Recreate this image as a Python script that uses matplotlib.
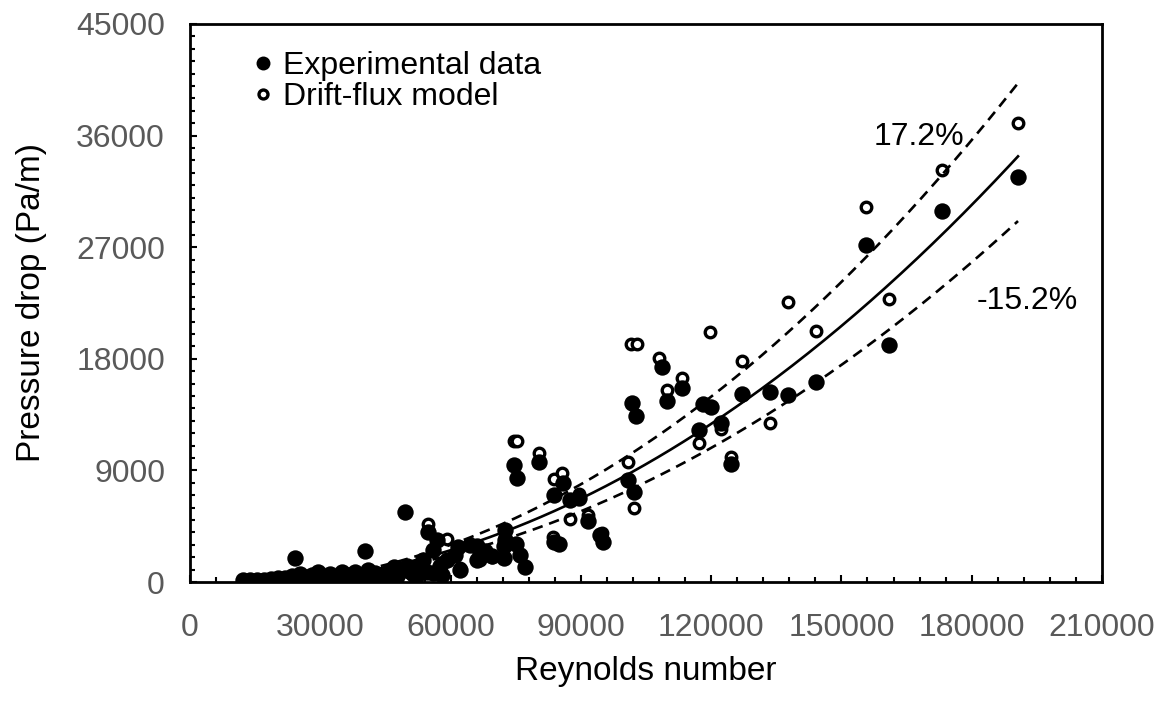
import numpy as np
import matplotlib.pyplot as plt
from matplotlib.ticker import MultipleLocator

# Experimental pressure drop vs Reynolds number
exp_re = [12200, 13800, 15430, 17040, 18650, 20260, 21870, 23490, 24180, 25330,
          26710, 28090, 29470, 30850, 32240, 33620, 35000, 36380, 37990, 39600,
          40300, 40990, 42600, 44210, 45590, 46970, 47660, 48350, 49510, 49970,
          51350, 52500, 53650, 54570, 54800, 55950, 56870, 57570, 59180, 61020,
          61710, 62170, 64470, 66090, 66780, 69540, 72300, 72300, 72530, 72530,
          75070, 75300, 74600, 75990, 77140, 80360, 83810, 83810, 84970, 85890,
          87500, 89570, 91640, 94410, 95100, 100850, 101780, 102240, 102700, 108680,
          109840, 113290, 117200, 118120, 119970, 122270, 124570, 127100, 133550, 137700,
          144140, 155660, 160960, 173160, 190660,
          38000, 41500, 43000, 45000, 47000, 50500, 52000, 56000, 58000, 66000,
          68000]
exp_dp = [160, 160, 160, 160, 240, 320, 320, 480, 1935, 650,
          400, 560, 810, 400, 650, 320, 810, 560, 810, 480,
          2500, 970, 730, 480, 810, 1210, 480, 970, 5650, 1290,
          650, 1290, 1770, 810, 4030, 2580, 3390, 1290, 1770, 2180,
          2820, 970, 2980, 1770, 2420, 2100, 1940, 2900, 4190, 3390,
          3060, 8390, 9440, 2180, 1210, 9680, 7020, 3230, 3060, 7980,
          6610, 6770, 4920, 3790, 3230, 8230, 14440, 7260, 13390, 17340,
          14600, 15650, 12260, 14360, 14110, 12820, 9520, 15160, 15320, 15080,
          16130, 27180, 19110, 29920, 32660,
          300, 400, 350, 200, 300, 900, 400, 700, 600, 2900,
          2500]

# Drift-flux model predictions
mod_re = [13800, 17040, 21870, 25330, 28090, 30850, 33620, 36380, 39600, 42600,
          45590, 48350, 51350, 54800, 57570, 59180, 62170, 66780, 69540, 72530,
          74600, 75300, 80360, 83580, 83810, 85660, 87500, 89570, 91640, 94870,
          100850, 101550, 102240, 102930, 107990, 109840, 113290, 117200, 119740, 122270,
          124570, 127100, 133550, 137700, 144140, 155660, 160960, 173160, 190660]
mod_dp = [140, 200, 280, 520, 420, 450, 380, 600, 520, 700,
          900, 1050, 700, 4680, 1150, 3470, 1100, 1770, 2000, 3600,
          11370, 11370, 10400, 3630, 8310, 8790, 5080, 7100, 5400, 3950,
          9680, 19190, 5970, 19190, 18070, 15480, 16450, 11210, 20160, 12340,
          10080, 17820, 12820, 22580, 20240, 30240, 22820, 33230, 37020]

band_up = 0.172
band_lo = 0.152

x_ticks = [0, 30000, 60000, 90000, 120000, 150000, 180000, 210000]
y_ticks = [0, 9000, 18000, 27000, 36000, 45000]

plt.rcParams['font.family'] = ['Liberation Sans', 'DejaVu Sans']

fig = plt.figure(figsize=(11.63, 7.15), dpi=100)
ax = fig.add_axes([190 / 1163, 133 / 715, 912 / 1163, 558 / 715])

ax.plot(mod_re, mod_dp, 'o', color='black', mfc='white', ms=7.6, mew=2.4,
        label='Drift-flux model', zorder=2)
ax.plot(exp_re, exp_dp, 'o', color='black', ms=11.8, mec='black', mew=0,
        label='Experimental data', zorder=3)

# second order trendline through the experimental points
coef = np.polyfit(exp_re, exp_dp, 2)
xs = np.linspace(min(exp_re), max(exp_re), 300)
fit = np.polyval(coef, xs)
ax.plot(xs, fit, color='black', lw=1.9, zorder=4)
ax.plot(xs, fit * (1 + band_up), color='black', lw=1.9, ls=(0, (4, 2.6)), zorder=4)
ax.plot(xs, fit * (1 - band_lo), color='black', lw=1.9, ls=(0, (4, 2.6)), zorder=4)

ax.text(167900, 35900, '17.2%', fontsize=23, ha='center', va='center')
ax.text(192800, 22700, '-15.2%', fontsize=23, ha='center', va='center')

ax.set_xlim(0, 210000)
ax.set_ylim(0, 45000)
ax.set_xticks(x_ticks)
ax.set_yticks(y_ticks)
ax.xaxis.set_minor_locator(MultipleLocator(6000))
ax.yaxis.set_minor_locator(MultipleLocator(1000))
ax.tick_params(which='both', direction='in', width=1.5, colors='black',
               labelcolor='#595959', labelsize=23)
ax.tick_params(which='major', length=5)
ax.tick_params(which='minor', length=3.6)
ax.tick_params(axis='x', pad=22)
ax.tick_params(axis='y', pad=18)
for sp in ax.spines.values():
    sp.set_linewidth(2)

ax.set_xlabel('Reynolds number', fontsize=24, labelpad=10)
ax.set_ylabel('Pressure drop (Pa/m)', fontsize=24, labelpad=21)

# legend lists the measured data first
h, l = ax.get_legend_handles_labels()
ax.legend(h[::-1], l[::-1], loc='upper left', bbox_to_anchor=(0.07, 0.952),
          frameon=False, fontsize=23, markerscale=0.85, handlelength=0.6,
          handletextpad=0.3, labelspacing=0.05, borderpad=0, borderaxespad=0)

fig.savefig('out.png', dpi=100)
